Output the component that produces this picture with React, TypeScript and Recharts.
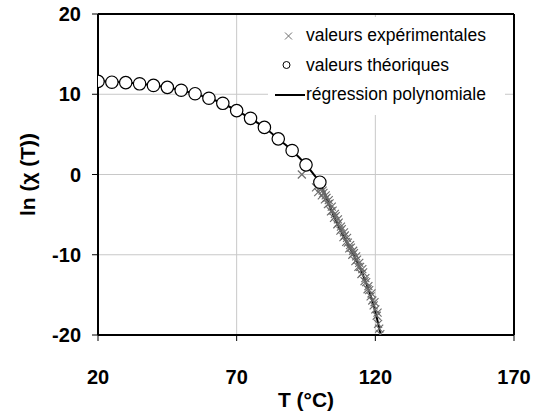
import {
  ComposedChart,
  Line,
  Scatter,
  XAxis,
  YAxis,
  CartesianGrid,
  ReferenceLine,
  Legend,
} from "recharts";

// theoretical values (circles), T in °C
const theoT = [20, 25, 30, 35, 40, 45, 50, 55, 60, 65, 70, 75, 80, 85, 90, 95, 100];
const theoLn = [11.6, 11.5, 11.45, 11.3, 11.1, 10.86, 10.5, 10.07, 9.5, 8.87, 7.96, 7.0, 5.87, 4.44, 2.99, 1.2, -0.96];

// experimental values (crosses)
const expT = [
  93.5, 98.6, 99.4, 100.2, 100.7, 101.0, 101.3, 101.8, 102.1, 102.4, 102.9, 103.2, 103.5, 104.0,
  104.3, 104.6, 105.1, 105.4, 105.7, 106.3, 106.5, 106.8, 107.4, 107.6, 107.9, 108.5, 108.7, 109.0,
  109.5, 109.8, 110.1, 110.6, 110.9, 111.2, 111.7, 112.0, 112.3, 112.8, 113.1, 113.4, 113.9, 114.2,
  114.5, 115.0, 115.3, 115.6, 116.1, 116.4, 116.7, 117.2, 117.5, 117.8, 118.3, 118.6, 118.9, 119.4,
  119.7, 120.0, 120.5, 120.8, 121.0, 121.4, 121.8,
];
const expLn = [
  0.0, -1.6, -2.2, -1.6, -2.6, -2.0, -2.3, -3.1, -2.6, -2.9, -3.7, -3.2, -3.6, -4.6,
  -4.0, -4.5, -5.4, -4.9, -5.2, -6.2, -5.6, -6.0, -7.0, -6.5, -6.8, -7.8, -7.2, -7.6,
  -8.4, -7.9, -8.5, -9.2, -8.8, -9.1, -10.0, -9.5, -9.8, -10.8, -10.2, -10.6, -11.5, -11.0,
  -11.5, -12.4, -11.8, -12.2, -13.3, -12.9, -13.4, -14.3, -13.9, -14.4, -15.2, -14.8, -15.7, -16.3,
  -15.9, -16.8, -17.6, -17.2, -18.6, -19.2, -19.9,
];

// polynomial regression curve
const regT = [20, 25, 30, 35, 40, 45, 50, 55, 60, 65, 70, 75, 80, 85, 90, 95, 97.5, 100, 102, 104, 106, 108, 110, 112, 114, 116, 118, 120, 121.8];
const regLn = [11.65, 11.55, 11.45, 11.3, 11.1, 10.85, 10.5, 10.05, 9.5, 8.85, 7.95, 7.0, 5.85, 4.45, 3.0, 1.2, 0.15, -1.05, -2.6, -4.3, -5.9, -7.3, -8.65, -9.95, -11.3, -12.9, -14.8, -17.1, -19.8];

const xTicks = [20, 70, 120, 170];
const yTicks = [-20, -10, 0, 10, 20];

const theoData = theoT.map((t, i) => ({ t, v: theoLn[i] }));
const expData = expT.map((t, i) => ({ t, v: expLn[i] }));
const regData = regT.map((t, i) => ({ t, v: regLn[i] }));

const FONT = '"Liberation Sans", Arial, sans-serif';
const tickStyle = { fill: "#000", fontSize: 20, fontWeight: 700, fontFamily: FONT };

const CrossShape = (props: any) => {
  const { cx, cy } = props;
  const s = 4;
  return (
    <g stroke="#6a6a6a" strokeWidth={1.1}>
      <line x1={cx - s} y1={cy - s} x2={cx + s} y2={cy + s} />
      <line x1={cx - s} y1={cy + s} x2={cx + s} y2={cy - s} />
    </g>
  );
};

const CircleShape = (props: any) => {
  const { cx, cy } = props;
  return <circle cx={cx} cy={cy} r={6.2} fill="#fff" stroke="#000" strokeWidth={1.2} />;
};

const LegendBox = () => {
  const row = { height: 29.5, display: "flex", alignItems: "center" } as const;
  const icon = { width: 38, height: 12, flex: "none" } as const;
  return (
    <div style={{ paddingTop: 4, fontFamily: FONT, fontSize: 17.5, color: "#000", lineHeight: 1 }}>
      <div style={row}>
        <svg style={icon}>
          <line x1={17} y1={2.5} x2={24} y2={9.5} stroke="#6e6e6e" />
          <line x1={17} y1={9.5} x2={24} y2={2.5} stroke="#6e6e6e" />
        </svg>
        <span>valeurs expérimentales</span>
      </div>
      <div style={row}>
        <svg style={icon}>
          <circle cx={18.5} cy={6} r={3.5} fill="#fff" stroke="#000" />
        </svg>
        <span>valeurs théoriques</span>
      </div>
      <div style={row}>
        <svg style={icon}>
          <line x1={7} y1={6} x2={37} y2={6} stroke="#000" strokeWidth={2} />
        </svg>
        <span>régression polynomiale</span>
      </div>
    </div>
  );
};

export default function App() {
  return (
    <div style={{ position: "absolute", left: 0, top: 0, width: 537, height: 416, background: "#fff" }}>
      <ComposedChart width={537} height={416} margin={{ top: 14, right: 23, bottom: 0, left: 0 }}>
        <CartesianGrid stroke="#c8c8c8" strokeWidth={1} />
        <XAxis
          type="number"
          dataKey="t"
          domain={[20, 170]}
          ticks={xTicks}
          allowDataOverflow
          height={81}
          tickSize={6}
          tickMargin={29}
          axisLine={{ stroke: "#000", strokeWidth: 2 }}
          tickLine={{ stroke: "#000", strokeWidth: 1 }}
          tick={tickStyle}
          label={{
            value: "T (°C)",
            position: "insideBottom",
            offset: 9,
            style: { fill: "#000", fontSize: 21, fontWeight: 700, fontFamily: FONT },
          }}
        />
        <YAxis
          type="number"
          dataKey="v"
          domain={[-20, 20]}
          ticks={yTicks}
          allowDataOverflow
          width={98}
          tickSize={6}
          tickMargin={11}
          axisLine={{ stroke: "#000", strokeWidth: 2 }}
          tickLine={{ stroke: "#000", strokeWidth: 1 }}
          tick={tickStyle}
          label={{
            content: ({ viewBox }: any) => {
              const cx = viewBox.x + 35;
              const cy = viewBox.y + viewBox.height / 2;
              return (
                <text
                  x={cx}
                  y={cy}
                  transform={`rotate(-90, ${cx}, ${cy})`}
                  textAnchor="middle"
                  fill="#000"
                  fontSize={21}
                  fontWeight={700}
                  fontFamily={FONT}
                >
                  ln (χ (T))
                </text>
              );
            },
          }}
        />
        <ReferenceLine y={20} stroke="#000" strokeWidth={2} />
        <ReferenceLine x={170} stroke="#000" strokeWidth={2} />
        <Scatter data={expData} dataKey="v" shape={CrossShape} isAnimationActive={false} />
        <Line
          data={regData}
          dataKey="v"
          type="monotone"
          stroke="#000"
          strokeWidth={2}
          dot={false}
          activeDot={false}
          isAnimationActive={false}
        />
        <Scatter data={theoData} dataKey="v" shape={CircleShape} isAnimationActive={false} />
        <Legend
          layout="horizontal"
          verticalAlign="middle"
          align="center"
          content={() => <LegendBox />}
          wrapperStyle={{ position: "absolute", top: 17, left: 268, width: 237, height: 98, background: "#fff" }}
        />
      </ComposedChart>
    </div>
  );
}
